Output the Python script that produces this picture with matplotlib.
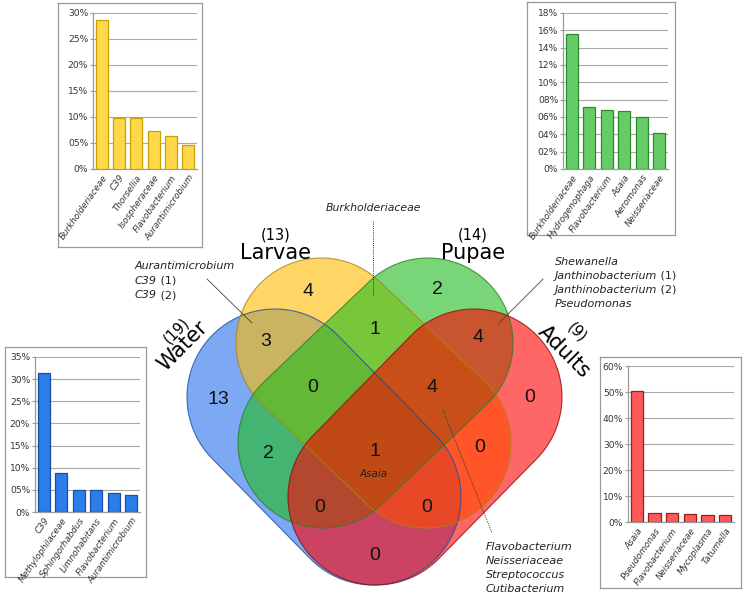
import numpy as np
import matplotlib
matplotlib.use("Agg")
import matplotlib.pyplot as plt
from matplotlib.patches import Polygon

W, H = 746, 599

# ---- data ----
set_names = ["Water", "Larvae", "Pupae", "Adults"]
set_sizes = [19, 13, 14, 9]

# region counts of the 4-way diagram
region_keys = ["W", "L", "P", "A", "WL", "LP", "PA", "WP", "LA", "WA",
               "WLP", "LPA", "WPA", "WLA", "WLPA"]
region_counts = [13, 4, 2, 0, 3, 1, 4, 2, 0, 0, 0, 4, 0, 0, 1]

core_taxa = ["Asaia"]
larvae_only_taxa = ["Burkholderiaceae"]
water_larvae_taxa = [("Aurantimicrobium", ""), ("C39", " (1)"), ("C39", " (2)")]
pupae_adults_taxa = [("Shewanella", ""), ("Janthinobacterium", " (1)"),
                     ("Janthinobacterium", " (2)"), ("Pseudomonas", "")]
lpa_taxa = ["Flavobacterium", "Neisseriaceae", "Streptococcus", "Cutibacterium"]

water_taxa = ["C39", "Methylophilaceae", "Sphingorhabdus", "Limnohabitans",
              "Flavobacterium", "Aurantimicrobium"]
water_pct = [31.5, 8.7, 5.0, 5.0, 4.4, 3.8]

larvae_taxa = ["Burkholderiaceae", "C39", "Thorsellia", "Isospheraceae",
               "Flavobacterium", "Aurantimicrobium"]
larvae_pct = [28.7, 9.8, 9.8, 7.4, 6.3, 4.6]

pupae_taxa = ["Burkholderiaceae", "Hydrogenophaga", "Flavobacterium", "Asaia",
              "Aeromonas", "Neisseriaceae"]
pupae_pct = [15.6, 7.1, 6.85, 6.7, 6.05, 4.15]

adults_taxa = ["Asaia", "Pseudomonas", "Flavobacterium", "Neisseriaceae",
               "Mycoplasma", "Tatumella"]
adults_pct = [50.4, 3.6, 3.3, 3.1, 2.8, 2.7]


def px_rect(left, top, right, bottom):
    return [left / W, 1 - bottom / H, (right - left) / W, (bottom - top) / H]


def stadium(p1, p2, r, n=80):
    p1 = np.asarray(p1, float)
    p2 = np.asarray(p2, float)
    d = p2 - p1
    a = np.arctan2(d[1], d[0])
    t2 = np.linspace(a - np.pi / 2, a + np.pi / 2, n)
    t1 = np.linspace(a + np.pi / 2, a + 3 * np.pi / 2, n)
    arc2 = np.column_stack([p2[0] + r * np.cos(t2), p2[1] + r * np.sin(t2)])
    arc1 = np.column_stack([p1[0] + r * np.cos(t1), p1[1] + r * np.sin(t1)])
    return np.vstack([arc2, arc1])


fig = plt.figure(figsize=(W / 100, H / 100), dpi=100)
ax = fig.add_axes([0, 0, 1, 1])
ax.set_xlim(0, W)
ax.set_ylim(H, 0)
ax.axis("off")

# shapes: cap centre 1, cap centre 2, radius, fill, edge
shapes = {
    "Water": ((275, 397), (373, 497), 88, "#2671ee", "#1d4f9e"),
    "Larvae": ((321, 343), (426, 443), 85, "#ffbc00", "#a88418"),
    "Pupae": ((428, 343), (323, 443), 85, "#1ebc1e", "#2a7f2a"),
    "Adults": ((474, 397), (376, 497), 88, "#ff0000", "#8c0f0f"),
}
for name in set_names:
    p1, p2, r, fc, ec = shapes[name]
    pts = stadium(p1, p2, r)
    ax.add_patch(Polygon(pts, closed=True, facecolor=fc, edgecolor="none",
                         alpha=0.6, zorder=2))
    ax.add_patch(Polygon(pts, closed=True, facecolor="none", edgecolor=ec,
                         lw=0.8, alpha=0.8, zorder=3))

# region counts
region_pos = {
    "W": (218, 400), "L": (308, 292), "P": (437, 289), "A": (530, 398),
    "WL": (266, 342), "LP": (375, 330), "PA": (478, 337), "WP": (268, 453),
    "LA": (480, 448), "WA": (375, 555), "WLP": (313, 387), "LPA": (432, 388),
    "WPA": (320, 507), "WLA": (427, 507), "WLPA": (375, 451),
}
for key, cnt in zip(region_keys, region_counts):
    x, y = region_pos[key]
    ax.text(x, y, str(cnt), ha="center", va="center", fontsize=14,
            family="Liberation Sans", color="#111111", zorder=5)

ax.text(374, 474, core_taxa[0], ha="center", va="center", fontsize=7.5,
        style="italic", color="#222222", zorder=5)

# set names and sizes
ax.text(276, 259, set_names[1], ha="center", va="baseline", fontsize=15, zorder=5)
ax.text(276, 239, f"({set_sizes[1]})", ha="center", va="baseline", fontsize=10.5, zorder=5)
ax.text(473, 259, set_names[2], ha="center", va="baseline", fontsize=15, zorder=5)
ax.text(473, 239, f"({set_sizes[2]})", ha="center", va="baseline", fontsize=10.5, zorder=5)
ax.text(183, 346, set_names[0], ha="center", va="center", fontsize=15,
        rotation=45, zorder=5)
ax.text(176, 330, f"({set_sizes[0]})", ha="center", va="center", fontsize=10.5,
        rotation=45, zorder=5)
ax.text(564, 352, set_names[3], ha="center", va="center", fontsize=15,
        rotation=-45, zorder=5)
ax.text(577, 332, f"({set_sizes[3]})", ha="center", va="center", fontsize=10.5,
        rotation=-45, zorder=5)

# annotations
ax.text(373, 208, larvae_only_taxa[0], ha="center", va="center", fontsize=7.8,
        style="italic", color="#222222")
ax.plot([373, 373], [221, 296], ls=(0, (1, 1.2)), lw=0.7, color="#333333", zorder=6)


def taxa_block(x, y0, dy, items):
    for i, (name, suffix) in enumerate(items):
        t = ax.text(x, y0 + i * dy, name, ha="left", va="center", fontsize=8,
                    style="italic", color="#222222")
        if suffix:
            ax.annotate(suffix, xy=(1, 0.5), xycoords=t, ha="left", va="center",
                        fontsize=8, color="#222222")


taxa_block(135, 266, 14.5, water_larvae_taxa)
ax.plot([207, 252], [279, 323], lw=0.6, color="#444444", zorder=6)

taxa_block(555, 262, 14, pupae_adults_taxa)
ax.plot([543, 499], [279, 323], lw=0.6, color="#444444", zorder=6)

taxa_block(486, 547, 14, [(n, "") for n in lpa_taxa])
ax.plot([443, 492], [410, 533], ls=(0, (1, 1.2)), lw=0.7, color="#333333", zorder=6)


# ---- inset bar charts ----
def inset(box, plot, taxa, pct, ymax, step, face, edge):
    bx = fig.add_axes(px_rect(*box))
    bx.set_xticks([])
    bx.set_yticks([])
    for s in bx.spines.values():
        s.set_color("#9a9a9a")
        s.set_linewidth(0.9)

    ia = fig.add_axes(px_rect(*plot))
    ia.patch.set_alpha(0)
    n = len(taxa)
    ia.bar(range(n), pct, width=0.68, color=face, edgecolor=edge,
           linewidth=0.9, zorder=3)
    ia.set_xlim(-0.5, n - 0.5)
    ia.set_ylim(0, ymax)
    ticks = list(range(0, ymax + 1, step))
    ia.set_yticks(ticks)
    ia.set_yticklabels(["0%" if t == 0 else f"{t:02d}%" for t in ticks])
    ia.yaxis.grid(True, color="#a8a8a8", lw=0.8)
    ia.set_axisbelow(True)
    for side in ("top", "right"):
        ia.spines[side].set_visible(False)
    for side in ("left", "bottom"):
        ia.spines[side].set_color("#9a9a9a")
        ia.spines[side].set_linewidth(0.9)
    ia.set_xticks(range(n))
    ia.set_xticklabels(taxa, rotation=55, ha="right", va="top",
                       rotation_mode="anchor", style="italic", fontsize=6.3,
                       color="#333333")
    ia.tick_params(axis="x", length=0, pad=3)
    ia.tick_params(axis="y", length=2, width=0.8, color="#9a9a9a",
                   labelsize=6.6, pad=1.5, labelcolor="#333333")
    return ia


inset((58, 3, 202, 247), (93, 13, 197, 169), larvae_taxa, larvae_pct, 30, 5,
      "#ffd84a", "#c9a000")
inset((527, 2, 675, 235), (563, 13, 668, 169), pupae_taxa, pupae_pct, 18, 2,
      "#66cc66", "#2f8a2f")
inset((5, 347, 146, 577), (35, 357, 140, 512), water_taxa, water_pct, 35, 5,
      "#2b7de9", "#1a4fa8")
inset((600, 357, 741, 588), (628, 366, 734, 522), adults_taxa, adults_pct, 60, 10,
      "#ff5a5a", "#9b1c1c")

fig.savefig("out.png", dpi=100)
